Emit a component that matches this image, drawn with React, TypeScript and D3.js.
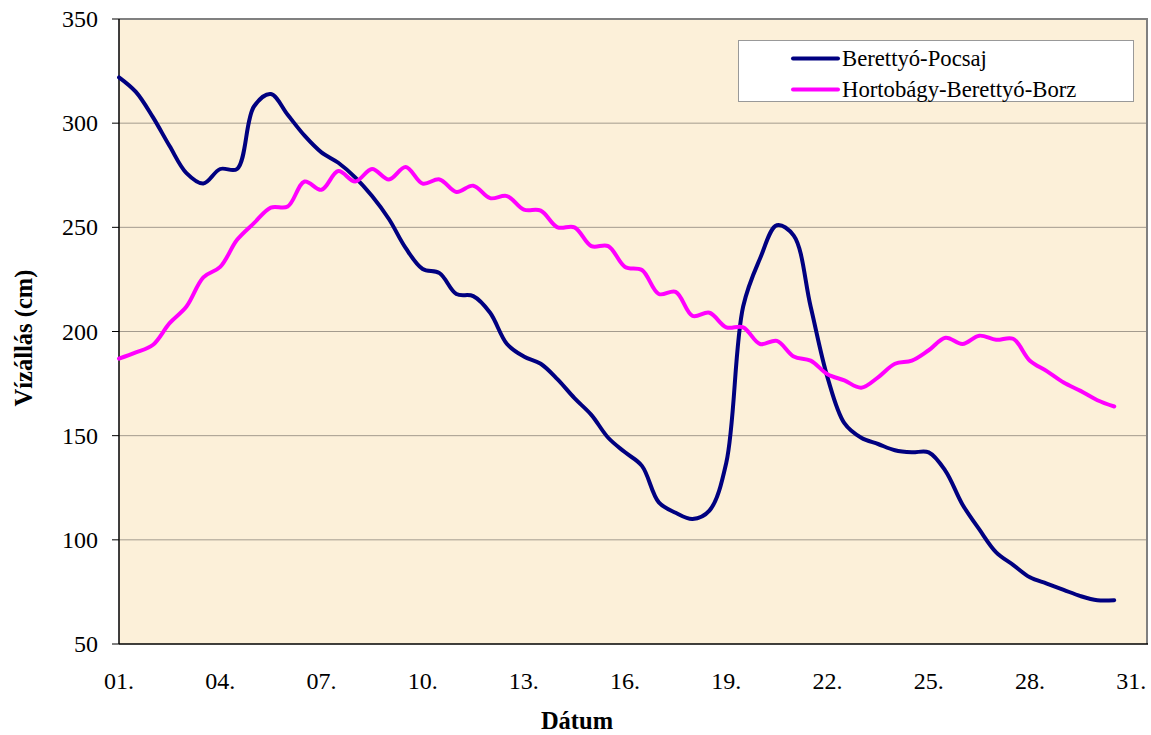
import React from "react";
import * as d3 from "d3";

const days: number[] = [
  1, 1.5, 2, 2.5, 3, 3.5, 4, 4.5, 5, 5.5, 6, 6.5, 7, 7.5, 8, 8.5, 9, 9.5, 10, 10.5,
  11, 11.5, 12, 12.5, 13, 13.5, 14, 14.5, 15, 15.5, 16, 16.5, 17, 17.5, 18, 18.5, 19, 19.5, 20, 20.5,
  21, 21.5, 22, 22.5, 23, 23.5, 24, 24.5, 25, 25.5, 26, 26.5, 27, 27.5, 28, 28.5, 29, 29.5, 30, 30.5,
];

const pocsaj: number[] = [
  322, 315, 303, 289, 276, 271, 278, 278, 308, 314, 304, 294, 286, 281, 274, 265, 254, 240, 230, 228,
  218, 217, 209, 194, 188, 184.5, 177, 168, 160, 149, 142, 135.5, 118, 113, 110, 114, 137, 212, 235, 251,
  246, 212, 178, 156, 149, 146, 143, 142, 142, 133, 117, 105, 94, 88, 82, 79, 76, 73, 71, 71,
];

const borz: number[] = [
  187, 190, 193.5, 204, 212, 226, 231, 244, 252, 259.5, 260, 272, 268, 277, 272, 278, 273, 279, 271, 273,
  267, 270, 264, 265, 258.5, 258, 250, 250, 241, 241, 231, 229.5, 218, 219, 207.5, 209, 202, 202, 194, 195.5,
  188, 186, 179.5, 176.5, 173, 178, 184.5, 186, 191, 197, 194, 198, 196, 196.5, 186, 181, 175.5, 171.5, 167, 164,
];

const xTickDays: number[] = [1, 4, 7, 10, 13, 16, 19, 22, 25, 28, 31];
const xTickLabels: string[] = ["01.", "04.", "07.", "10.", "13.", "16.", "19.", "22.", "25.", "28.", "31."];
const yTicks: number[] = [50, 100, 150, 200, 250, 300, 350];

const seriesNames: string[] = ["Berettyó-Pocsaj", "Hortobágy-Berettyó-Borz"];
const seriesColors: string[] = ["#000080", "#ff00ff"];

const W = 1151;
const H = 735;
const L = 119;
const R = 1148;
const T = 19;
const B = 644;
const FONT = "'Liberation Serif', 'Times New Roman', serif";

export default function App() {
  const x = d3.scaleLinear().domain([1, 31.5]).range([L, R]);
  const y = d3.scaleLinear().domain([50, 350]).range([B, T]);
  const line = d3
    .line<number>()
    .x((_, i) => x(days[i]))
    .y((v) => y(v))
    .curve(d3.curveCatmullRom.alpha(0.5));
  const series = [pocsaj, borz];

  return (
    <svg
      width={W}
      height={H}
      style={{ position: "absolute", left: 0, top: 0, background: "#fff" }}
      fontFamily={FONT}
    >
      <rect x={L} y={T} width={R - L} height={B - T} fill="#fcf0d9" />
      {yTicks.filter((t) => t > 50 && t < 350).map((t) => (
        <line key={t} x1={L} x2={R} y1={y(t)} y2={y(t)} stroke="#a39b8e" strokeWidth={1} />
      ))}
      <line x1={L} x2={R} y1={T} y2={T} stroke="#808080" strokeWidth={2} />
      <line x1={R - 1} x2={R - 1} y1={T} y2={B} stroke="#808080" strokeWidth={2} />
      <line x1={L} x2={R} y1={B} y2={B} stroke="#000" strokeWidth={1.5} />
      <line x1={L} x2={L} y1={T} y2={B} stroke="#000" strokeWidth={1.5} />
      {yTicks.map((t) => (
        <g key={t}>
          <line x1={L - 7} x2={L} y1={y(t)} y2={y(t)} stroke="#000" strokeWidth={1} />
          <text x={98} y={y(t) + 8} textAnchor="end" fontSize={24} fill="#000">
            {t}
          </text>
        </g>
      ))}
      {xTickDays.map((d, i) => (
        <text key={d} x={x(d)} y={689} textAnchor="middle" fontSize={24} fill="#000">
          {xTickLabels[i]}
        </text>
      ))}
      {series.map((s, i) => (
        <path
          key={i}
          d={line(s) || ""}
          fill="none"
          stroke={seriesColors[i]}
          strokeWidth={4}
          strokeLinejoin="round"
          strokeLinecap="round"
        />
      ))}
      <rect x={738.5} y={40.5} width={395} height={61} fill="#fff" stroke="#999" strokeWidth={1} />
      {seriesNames.map((n, i) => (
        <g key={n}>
          <line
            x1={793}
            x2={838}
            y1={58.5 + i * 31}
            y2={58.5 + i * 31}
            stroke={seriesColors[i]}
            strokeWidth={4}
            strokeLinecap="round"
          />
          <text x={842} y={66 + i * 31} fontSize={22.7} fill="#000">
            {n}
          </text>
        </g>
      ))}
      <text
        transform={`translate(32,338) rotate(-90)`}
        textAnchor="middle"
        fontSize={24.5}
        fontWeight="bold"
        fill="#000"
      >
        Vízállás (cm)
      </text>
      <text x={577} y={729} textAnchor="middle" fontSize={24.5} fontWeight="bold" fill="#000">
        Dátum
      </text>
    </svg>
  );
}
